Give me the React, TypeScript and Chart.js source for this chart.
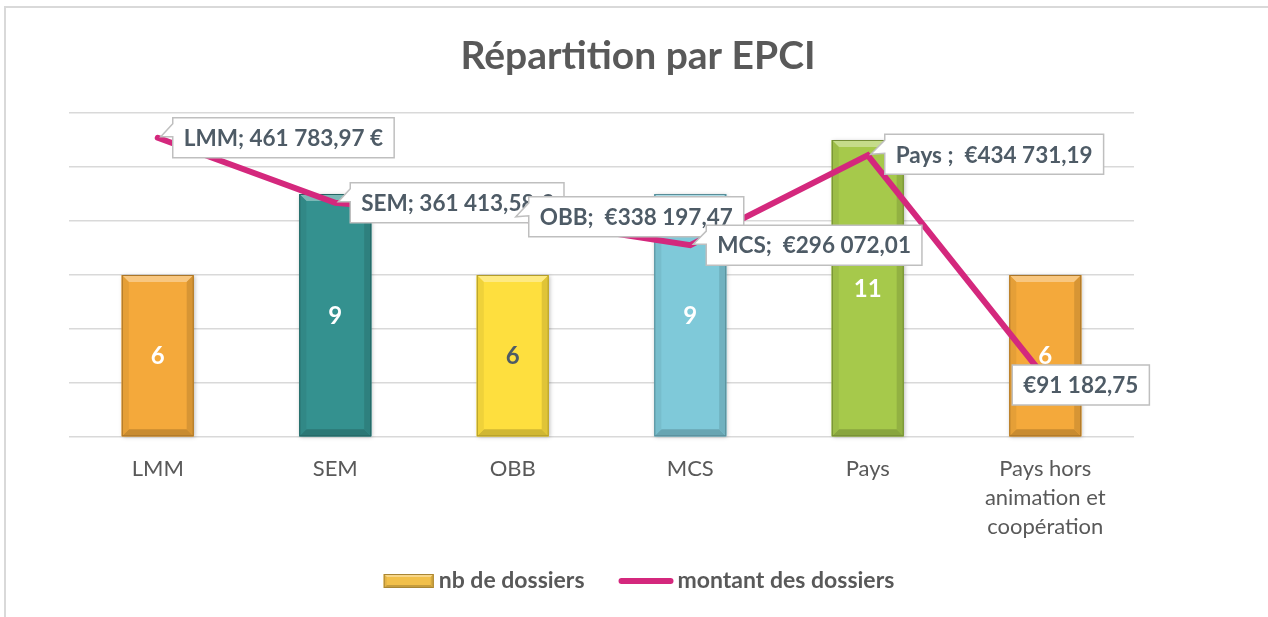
import React, { useEffect, useRef } from "react";
import { Chart, registerables } from "chart.js";

Chart.register(...registerables);

// ---- data ----
const categories: string[][] = [
  ["LMM"],
  ["SEM"],
  ["OBB"],
  ["MCS"],
  ["Pays"],
  ["Pays hors", "animation et", "coopération"],
];
const dossierCounts = [6, 9, 6, 9, 11, 6];
const amounts = [461783.97, 361413.58, 338197.47, 296072.01, 434731.19, 91182.75];
const amountLabels = [
  "LMM; 461 783,97 €",
  "SEM; 361 413,58 €",
  "OBB;  €338 197,47",
  "MCS;  €296 072,01",
  "Pays ;  €434 731,19",
  "€91 182,75",
];
const seriesNames = ["nb de dossiers", "montant des dossiers"];
const titleText = "Répartition par EPCI";
const countAxisMax = 12;
const countAxisStep = 2;
const amountAxisMax = 500000;

// ---- styles ----
const barColors = ["#F4A93B", "#34918F", "#FEDF3E", "#7FC9D9", "#A6C94B", "#F4A93B"];
const barLabelColors = ["#FFFFFF", "#FFFFFF", "#4E5B66", "#FFFFFF", "#FFFFFF", "#FFFFFF"];
const lineColor = "#D4287D";
const textGray = "#595959";
const calloutText = "#4E5B66";
const FONT = "Lato, 'Open Sans', sans-serif";
// callout placement: [dx from point to box left, dy of box centre from point, with pointer]
const calloutPlacement: [number, number, boolean][] = [
  [15, 0, true],
  [15, 0, true],
  [16, -1, true],
  [16, 0, true],
  [17, -1, true],
  [-33, 7, false],
];

function shade(hex: string, amt: number): string {
  const n = parseInt(hex.slice(1), 16);
  let r = (n >> 16) & 255, g = (n >> 8) & 255, b = n & 255;
  const t = amt < 0 ? 0 : 255;
  const p = Math.abs(amt);
  r = Math.round(r + (t - r) * p);
  g = Math.round(g + (t - g) * p);
  b = Math.round(b + (t - b) * p);
  return `rgb(${r},${g},${b})`;
}

function drawBevelRect(ctx: CanvasRenderingContext2D, l: number, t: number, r: number, btm: number, color: string, bv: number) {
  ctx.fillStyle = color;
  ctx.fillRect(l, t, r - l, btm - t);
  ctx.fillStyle = shade(color, 0.35);
  ctx.beginPath();
  ctx.moveTo(l, t); ctx.lineTo(r, t); ctx.lineTo(r - bv, t + bv); ctx.lineTo(l + bv, t + bv); ctx.closePath(); ctx.fill();
  ctx.fillStyle = shade(color, -0.18);
  ctx.beginPath();
  ctx.moveTo(l, btm); ctx.lineTo(r, btm); ctx.lineTo(r - bv, btm - bv); ctx.lineTo(l + bv, btm - bv); ctx.closePath(); ctx.fill();
  ctx.fillStyle = shade(color, -0.06);
  ctx.beginPath();
  ctx.moveTo(l, t); ctx.lineTo(l + bv, t + bv); ctx.lineTo(l + bv, btm - bv); ctx.lineTo(l, btm); ctx.closePath(); ctx.fill();
  ctx.fillStyle = shade(color, -0.12);
  ctx.beginPath();
  ctx.moveTo(r, t); ctx.lineTo(r - bv, t + bv); ctx.lineTo(r - bv, btm - bv); ctx.lineTo(r, btm); ctx.closePath(); ctx.fill();
  ctx.strokeStyle = shade(color, -0.3);
  ctx.lineWidth = 1;
  ctx.strokeRect(l + 0.5, t + 0.5, r - l - 1, btm - t - 1);
}

const framePlugin = {
  id: "frame",
  beforeDraw(chart: any) {
    const { ctx, width, height } = chart;
    ctx.save();
    ctx.fillStyle = "#FFFFFF";
    ctx.fillRect(0, 0, width, height);
    ctx.strokeStyle = "#D9D9D9";
    ctx.lineWidth = 2;
    ctx.beginPath();
    ctx.moveTo(5, height);
    ctx.lineTo(5, 7);
    ctx.lineTo(width, 7);
    ctx.stroke();
    // title
    ctx.font = `bold 39px ${FONT}`;
    ctx.fillStyle = textGray;
    ctx.textAlign = "center";
    ctx.textBaseline = "middle";
    ctx.fillText(titleText, width / 2 + 4, 56);
    ctx.restore();
  },
};

const barStylePlugin = {
  id: "barStyle",
  afterDatasetDraw(chart: any, args: any) {
    if (args.index !== 0) return;
    const ctx: CanvasRenderingContext2D = chart.ctx;
    const meta = chart.getDatasetMeta(0);
    ctx.save();
    meta.data.forEach((bar: any, i: number) => {
      const { x, y, base, width } = bar.getProps(["x", "y", "base", "width"], true);
      const l = x - width / 2, r = x + width / 2;
      ctx.save();
      ctx.shadowColor = "rgba(0,0,0,0.25)";
      ctx.shadowBlur = 4;
      ctx.shadowOffsetX = 1;
      ctx.shadowOffsetY = 1;
      ctx.fillStyle = barColors[i];
      ctx.fillRect(l, y, width, base - y);
      ctx.restore();
      drawBevelRect(ctx, l, y, r, base, barColors[i], 7);
      ctx.font = `bold 24px ${FONT}`;
      ctx.fillStyle = barLabelColors[i];
      ctx.textAlign = "center";
      ctx.textBaseline = "middle";
      ctx.fillText(String(dossierCounts[i]), x, (y + base) / 2 + 1);
    });
    ctx.restore();
  },
};

const calloutPlugin = {
  id: "callouts",
  afterDatasetsDraw(chart: any) {
    const ctx: CanvasRenderingContext2D = chart.ctx;
    const meta = chart.getDatasetMeta(1);
    ctx.save();
    ctx.font = `bold 22.5px ${FONT}`;
    meta.data.forEach((pt: any, i: number) => {
      const { x, y } = pt.getProps(["x", "y"], true);
      const text = amountLabels[i];
      const tw = ctx.measureText(text).width;
      const w = tw + 22;
      const h = 40;
      const [dx, dy, pointer] = calloutPlacement[i];
      const left = x + dx;
      const top = y + dy - h / 2;
      ctx.beginPath();
      ctx.moveTo(left, top);
      ctx.lineTo(left + w, top);
      ctx.lineTo(left + w, top + h);
      ctx.lineTo(left, top + h);
      if (pointer) {
        ctx.lineTo(left, top + 19);
        ctx.lineTo(x + 3, y - 1);
        ctx.lineTo(left, top + 6);
      }
      ctx.closePath();
      ctx.fillStyle = "#FFFFFF";
      ctx.fill();
      ctx.strokeStyle = "#BFBFBF";
      ctx.lineWidth = 1.5;
      ctx.stroke();
      ctx.fillStyle = calloutText;
      ctx.textAlign = "center";
      ctx.textBaseline = "middle";
      ctx.fillText(text, left + w / 2, top + h / 2 + 1);
    });
    ctx.restore();
  },
};

const legendPlugin = {
  id: "customLegend",
  afterDraw(chart: any) {
    const ctx: CanvasRenderingContext2D = chart.ctx;
    ctx.save();
    ctx.font = `bold 23px ${FONT}`;
    const cy = 581;
    const iconW = 50;
    const gap1 = 5;
    const gapItems = 34;
    const w1 = ctx.measureText(seriesNames[0]).width;
    const w2 = ctx.measureText(seriesNames[1]).width;
    const total = iconW + gap1 + w1 + gapItems + 55 + 4 + w2;
    let x = chart.width / 2 - total / 2 + 5;
    drawBevelRect(ctx, x, cy - 7, x + iconW, cy + 7, "#F2C04A", 3);
    x += iconW + gap1;
    ctx.fillStyle = textGray;
    ctx.textAlign = "left";
    ctx.textBaseline = "middle";
    ctx.fillText(seriesNames[0], x, cy);
    x += w1 + gapItems;
    ctx.strokeStyle = lineColor;
    ctx.lineWidth = 6;
    ctx.lineCap = "round";
    ctx.beginPath();
    ctx.moveTo(x + 3, cy);
    ctx.lineTo(x + 52, cy);
    ctx.stroke();
    x += 55 + 4;
    ctx.fillText(seriesNames[1], x, cy);
    ctx.restore();
  },
};

export default function App() {
  const canvasRef = useRef<HTMLCanvasElement | null>(null);

  useEffect(() => {
    if (!canvasRef.current) return;
    const chart = new Chart(canvasRef.current, {
      type: "bar",
      data: {
        labels: categories,
        datasets: [
          {
            type: "bar",
            label: seriesNames[0],
            data: dossierCounts,
            backgroundColor: barColors,
            borderWidth: 0,
            barPercentage: 0.405,
            categoryPercentage: 1,
            yAxisID: "y",
            order: 1,
          },
          {
            type: "line",
            label: seriesNames[1],
            data: amounts,
            borderColor: lineColor,
            backgroundColor: lineColor,
            borderWidth: 6,
            pointRadius: 0,
            borderCapStyle: "round",
            borderJoinStyle: "miter",
            tension: 0,
            yAxisID: "y1",
            order: 0,
          },
        ],
      } as any,
      options: {
        responsive: false,
        animation: false,
        layout: { padding: { left: 69, right: 134, top: 113, bottom: 60 } },
        plugins: {
          legend: { display: false },
          tooltip: { enabled: false },
          title: { display: false },
        },
        scales: {
          x: {
            grid: { display: false, drawTicks: false },
            border: { display: false },
            ticks: {
              color: textGray,
              font: { family: FONT, size: 22, lineHeight: 1.3 },
              padding: 18,
              maxRotation: 0,
              autoSkip: false,
            },
            afterFit: (s: any) => {
              s.height = 120;
            },
          },
          y: {
            min: 0,
            max: countAxisMax,
            ticks: { display: false, stepSize: countAxisStep },
            grid: { color: "#D9D9D9", lineWidth: 1.5, drawTicks: false },
            border: { display: false },
            afterFit: (s: any) => {
              s.width = 0;
            },
          },
          y1: {
            position: "right",
            min: 0,
            max: amountAxisMax,
            display: false,
          },
        },
      } as any,
      plugins: [framePlugin, barStylePlugin, calloutPlugin, legendPlugin],
    });
    return () => chart.destroy();
  }, []);

  return (
    <div style={{ position: "fixed", left: 0, top: 0, width: 1268, height: 617 }}>
      <canvas ref={canvasRef} width={1268} height={617} style={{ display: "block" }} />
    </div>
  );
}
